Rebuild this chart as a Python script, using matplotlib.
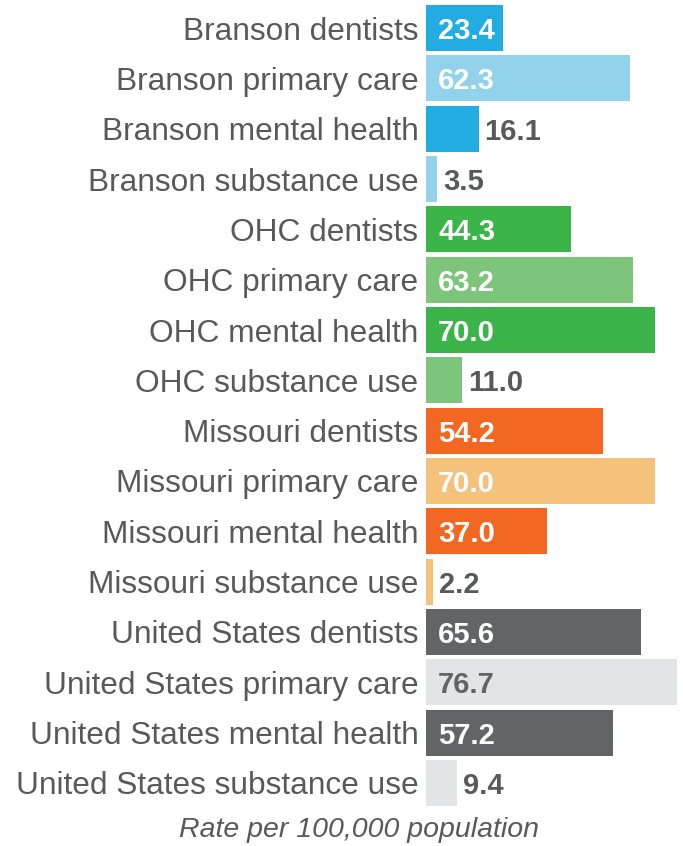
import matplotlib.pyplot as plt

plt.rcParams['font.family'] = ['Liberation Sans', 'DejaVu Sans']

# data
categories = [
    "Branson dentists", "Branson primary care", "Branson mental health", "Branson substance use",
    "OHC dentists", "OHC primary care", "OHC mental health", "OHC substance use",
    "Missouri dentists", "Missouri primary care", "Missouri mental health", "Missouri substance use",
    "United States dentists", "United States primary care", "United States mental health",
    "United States substance use",
]
values = [23.4, 62.3, 16.1, 3.5,
          44.3, 63.2, 70.0, 11.0,
          54.2, 70.0, 37.0, 2.2,
          65.6, 76.7, 57.2, 9.4]
bar_colors = ["#22ACE2", "#92D3EB", "#22ACE2", "#92D3EB",
              "#3BB44A", "#7DC57A", "#3BB44A", "#7DC57A",
              "#F26722", "#F5C27B", "#F26722", "#F5C27B",
              "#636466", "#E3E4E6", "#636466", "#E3E4E6"]
xlabel = "Rate per 100,000 population"

fig = plt.figure(figsize=(6.83, 8.46), dpi=100)
ax = fig.add_axes([426 / 683, 1 - 808 / 846, 251 / 683, 805 / 846])

ypos = list(range(len(values)))
ax.barh(ypos, values, height=0.915, color=bar_colors)
ax.set_xlim(0, 76.7)
ax.set_ylim(len(values) - 0.5, -0.5)

ax.set_yticks(ypos)
ax.set_yticklabels(categories, fontsize=22.8, color="#595959")
ax.tick_params(axis="y", length=0, pad=5.5)
ax.set_xticks([])
for s in ax.spines.values():
    s.set_visible(False)

# value labels
for y, v, c in zip(ypos, values, bar_colors):
    if v >= 20:
        tc = "#636466" if c == "#E3E4E6" else "white"
        ax.text(3.7, y + 0.06, f"{v:.1f}", va="center", ha="left",
                fontsize=21, fontweight="bold", color=tc)
    else:
        ax.text(v + 1.8, y + 0.06, f"{v:.1f}", va="center", ha="left",
                fontsize=21, fontweight="bold", color="#58595B")

fig.text(359.5 / 683, 1 - 837 / 846, xlabel, ha="center", va="baseline",
         fontsize=20.5, style="italic", color="#595959")

fig.savefig("out.png", dpi=100)
